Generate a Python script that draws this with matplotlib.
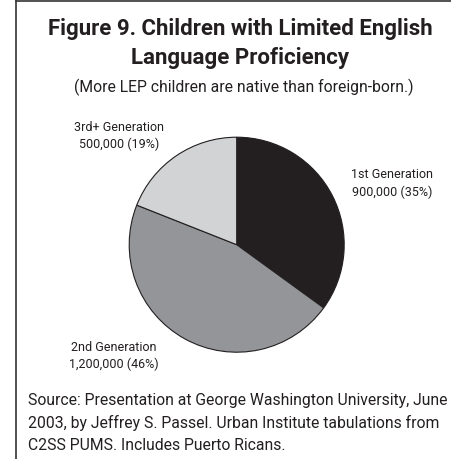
import matplotlib
matplotlib.use('Agg')
import matplotlib.pyplot as plt
from matplotlib.lines import Line2D

plt.rcParams['font.family'] = ['Roboto', 'Liberation Sans', 'DejaVu Sans']

# data
groups = ['1st Generation', '2nd Generation', '3rd+ Generation']
children = [900000, 1200000, 500000]
shares = [35, 46, 19]
colors = ['#231f20', '#939598', '#d1d3d4']

W, H = 451, 460
fig = plt.figure(figsize=(W / 100, H / 100), dpi=100)

def px(x, y):
    return x / W, 1 - y / H

# frame: top and left rules only
fig.add_artist(Line2D([16 / W, 1], [1 - 1.5 / H] * 2, color='#333333', lw=1.2))
fig.add_artist(Line2D([16 / W] * 2, [1 - 1.5 / H, 0], color='#333333', lw=1.2))

fig.text(*px(240, 29), 'Figure 9. Children with Limited English', ha='center', va='center',
         fontsize=16, fontweight='bold', color='#231f20')
fig.text(*px(240, 58), 'Language Proficiency', ha='center', va='center',
         fontsize=16, fontweight='bold', color='#231f20')
fig.text(*px(244, 87), '(More LEP children are native than foreign-born.)', ha='center', va='center',
         fontsize=11.3, color='#231f20')

# pie
cx, cy, r = 236.7, 245.7, 107.5
ax = fig.add_axes([(cx - r) / W, 1 - (cy + r) / H, 2 * r / W, 2 * r / H])
ax.pie(shares, colors=colors, startangle=90, counterclock=False,
       wedgeprops=dict(edgecolor='#231f20', linewidth=0.8))
ax.set_xlim(-1, 1)
ax.set_ylim(-1, 1)
ax.set_aspect('equal')
ax.axis('off')

label_pos = [(392, 183.5), (114, 356), (119, 136)]
for name, n, s, (x, y) in zip(groups, children, shares, label_pos):
    fig.text(*px(x, y), f'{name}\n{n:,} ({s}%)', ha='center', va='center',
             fontsize=9, color='#231f20', linespacing=1.4)

source = ('Source: Presentation at George Washington University, June\n'
          '2003, by Jeffrey S. Passel. Urban Institute tabulations from\n'
          'C2SS PUMS. Includes Puerto Ricans.')
fig.text(*px(28, 423), source, ha='left', va='center', fontsize=11.35,
         color='#231f20', linespacing=1.55)

fig.savefig('out.png', dpi=100, facecolor='white')
